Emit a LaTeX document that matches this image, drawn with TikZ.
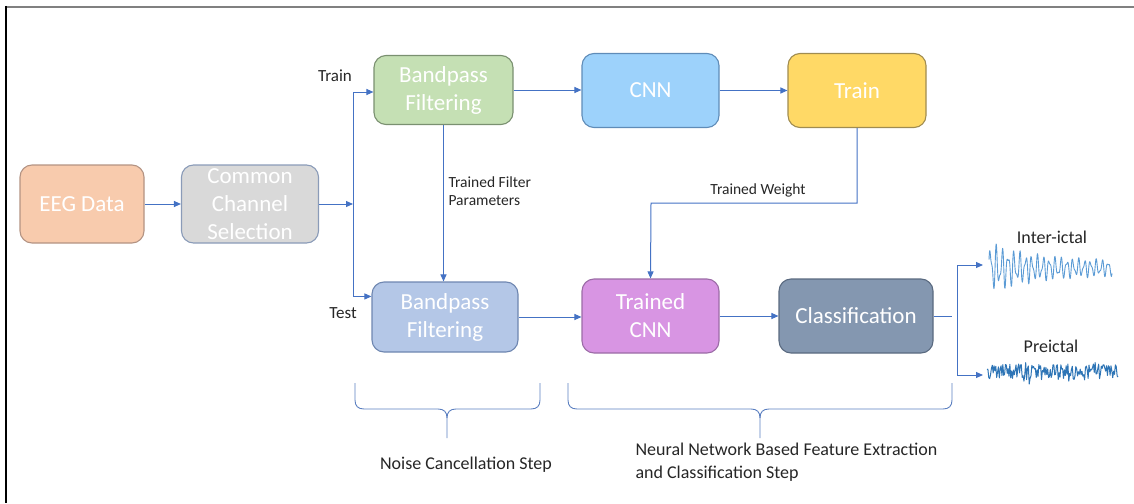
\documentclass[tikz,border=0pt]{standalone}
\usepackage{fontspec}
\setmainfont{Carlito}
\usetikzlibrary{arrows.meta}

\definecolor{flow}{HTML}{4472C4}
\definecolor{eegfill}{HTML}{F8CBAD}\definecolor{eegline}{HTML}{B39383}
\definecolor{ccsfill}{HTML}{D9D9D9}\definecolor{ccsline}{HTML}{8A9BB8}
\definecolor{bpafill}{HTML}{C5E0B4}\definecolor{bpaline}{HTML}{7A9070}
\definecolor{bpbfill}{HTML}{B4C7E7}\definecolor{bpbline}{HTML}{6E86B0}
\definecolor{cnnfill}{HTML}{9DD2FB}\definecolor{cnnline}{HTML}{5F8CB8}
\definecolor{trnfill}{HTML}{FFD966}\definecolor{trnline}{HTML}{A08C50}
\definecolor{tcnfill}{HTML}{D895E3}\definecolor{tcnline}{HTML}{9B6BA6}
\definecolor{clsfill}{HTML}{8497B0}\definecolor{clsline}{HTML}{5A6A80}
\definecolor{interwave}{HTML}{5B9BD5}
\definecolor{prewave}{HTML}{2E75B6}
\definecolor{bracecol}{HTML}{5B7FC0}

\tikzset{
  stagebox/.style={draw, rounded corners=12pt, line width=1.1pt, align=center,
    text=white, inner sep=0pt, font=\fontsize{23}{28}\selectfont},
  arr/.style={draw=flow, line width=1pt, -{Triangle[length=7pt,width=6pt]}},
  plainline/.style={draw=flow, line width=1pt},
  sidelabel/.style={text=black!85, font=\fontsize{17}{20}\selectfont},
  wavelabel/.style={text=black!85, font=\fontsize{18}{20}\selectfont},
  smalllabel/.style={text=black!85, font=\fontsize{15.5}{18}\selectfont, align=left},
  steplabel/.style={text=black!85, font=\fontsize{18}{23}\selectfont, align=left},
  bracepath/.style={draw=bracecol, line width=0.9pt},
}

\begin{document}
\begin{tikzpicture}[x=1pt, y=-1pt]
\useasboundingbox (0,0) rectangle (1134,503);

% page frame
\draw[black!50, line width=2.2pt] (5,7) -- (1134,7);
\draw[black, line width=1.8pt] (6,6) -- (6,503);

% processing stages
\node[stagebox, fill=eegfill, draw=eegline, minimum width=124pt, minimum height=78pt] (eeg) at (82,204) {EEG Data};
\node[stagebox, fill=ccsfill, draw=ccsline, minimum width=137pt, minimum height=78pt] (ccs) at (250,204) {Common\\Channel\\Selection};
\node[stagebox, fill=bpafill, draw=bpaline, minimum width=139pt, minimum height=69pt] (bp1) at (443.5,90) {Bandpass\\Filtering};
\node[stagebox, fill=bpbfill, draw=bpbline, minimum width=146pt, minimum height=70pt] (bp2) at (445,317) {Bandpass\\Filtering};
\node[stagebox, fill=cnnfill, draw=cnnline, minimum width=137pt, minimum height=74pt] (cnn) at (650.5,90.5) {CNN};
\node[stagebox, fill=trnfill, draw=trnline, minimum width=138pt, minimum height=74pt] (trn) at (857,90.5) {Train};
\node[stagebox, fill=tcnfill, draw=tcnline, minimum width=137pt, minimum height=74pt] (tcnn) at (650.5,316) {Trained\\CNN};
\node[stagebox, fill=clsfill, draw=clsline, minimum width=154pt, minimum height=74pt] (cls) at (856,316) {Classification};

% labels
\node[sidelabel] (trainlbl) at (335,76) {Train};
\node[sidelabel] (testlbl) at (343,313) {Test};
\node[smalllabel, anchor=west] (tfp) at (445,191) {Trained Filter\\Parameters};
\node[smalllabel] (twlbl) at (758,190) {Trained Weight};
\node[wavelabel] (interlbl) at (1052,237) {Inter-ictal};
\node[wavelabel] (prelbl) at (1051,346) {Preictal};
\node[steplabel] (noiselbl) at (466,465) {Noise Cancellation Step};
\node[steplabel, anchor=west] (nnlbl) at (632,462) {Neural Network Based Feature Extraction\\and Classification Step};

% connectors
\coordinate (split) at (353,204);
\draw[arr] (eeg) -- (ccs);
\draw[arr] (ccs.east) -- (split);
\draw[arr] (split) |- ([yshift=-2pt]bp1.west);
\draw[arr] (split) |- ([yshift=-15pt]bp2.north west);
\draw[arr] (bp1.south) -- (bp1.south |- bp2.north);
\draw[arr] (bp1.east) -- (bp1.east -| cnn.west);
\draw[arr] (cnn) -- (trn);
\draw[arr] (bp2.east) -- (bp2.east -| tcnn.west);
\draw[arr] (tcnn) -- (cls);
\coordinate (tw) at (651,203);
\draw[arr] (trn.south) |- (tw) -- (tcnn.north);

\coordinate (forkin) at (952,316);
\coordinate (fork) at (957,316);
\coordinate (interin) at (983,265);
\coordinate (prein) at (983,375);
\draw[plainline] (cls.east) -- (forkin);
\draw[arr] (fork) |- (interin);
\draw[arr] (fork) |- (prein);

% EEG traces
\draw[interwave, line width=0.9pt, line join=round]
  plot[domain=0:123, samples=400]
  (989+\x, {268 - (7+18*exp(-\x/45))*(0.75*sin(360*frac(0.17*\x)) + 0.35*sin(360*frac(0.29*\x+0.2)))});
\pgfmathsetseed{11}
\draw[prewave, line width=1pt, line join=round]
  plot[domain=0:131, samples=150]
  (987+\x, {372 + 8*rand + 13*rand*(rand>0.7)});

% braces
\draw[bracepath] (355,383) -- (355,400) .. controls (355,406) and (358,409) .. (364,409)
  -- (438,409) .. controls (444,409) and (447,412) .. (447,418) -- (447,438);
\draw[bracepath] (540,383) -- (540,400) .. controls (540,406) and (537,409) .. (531,409)
  -- (456,409) .. controls (450,409) and (447,412) .. (447,418);
\draw[bracepath] (568,383) -- (568,400) .. controls (568,406) and (571,409) .. (577,409)
  -- (751,409) .. controls (757,409) and (760,412) .. (760,418) -- (760,438);
\draw[bracepath] (952,383) -- (952,400) .. controls (952,406) and (949,409) .. (943,409)
  -- (769,409) .. controls (763,409) and (760,412) .. (760,418);
\end{tikzpicture}
\end{document}
